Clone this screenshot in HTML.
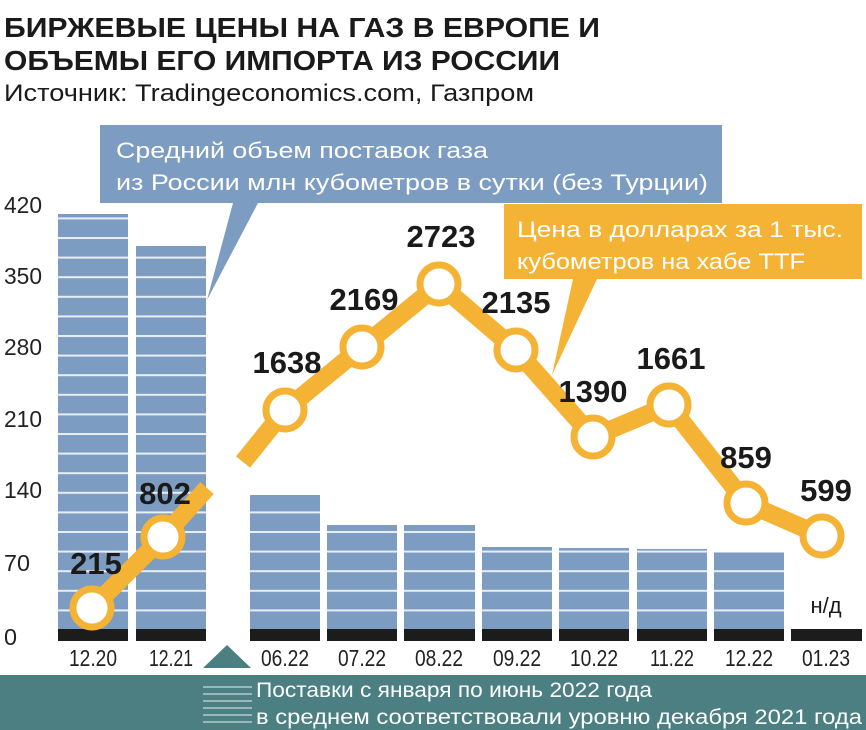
<!DOCTYPE html>
<html><head><meta charset="utf-8"><style>body{margin:0;background:#fff}svg{display:block}</style></head>
<body>
<svg width="866" height="730" xmlns="http://www.w3.org/2000/svg" font-family="Liberation Sans, DejaVu Sans, sans-serif">
<rect width="866" height="730" fill="#fff"/>
<text x="4" y="37" font-size="28" font-weight="bold" fill="#1a1a1a" textLength="596" lengthAdjust="spacingAndGlyphs">БИРЖЕВЫЕ ЦЕНЫ НА ГАЗ В ЕВРОПЕ И</text>
<text x="4" y="70" font-size="28" font-weight="bold" fill="#1a1a1a" textLength="556" lengthAdjust="spacingAndGlyphs">ОБЪЕМЫ ЕГО ИМПОРТА ИЗ РОССИИ</text>
<text x="4" y="101" font-size="24" fill="#1a1a1a" textLength="530" lengthAdjust="spacingAndGlyphs">Источник: Tradingeconomics.com, Газпром</text>
<defs>
<pattern id="st" width="10" height="19.6" patternUnits="userSpaceOnUse" y="629">
<rect width="10" height="19.6" fill="#7d9cc1"/><rect width="10" height="2" y="0" fill="#e8eef5"/>
</pattern>
</defs>
<g font-size="23" fill="#222" text-anchor="start">
<text x="4" y="213" textLength="38" lengthAdjust="spacingAndGlyphs">420</text>
<text x="4" y="284" textLength="38" lengthAdjust="spacingAndGlyphs">350</text>
<text x="4" y="355" textLength="38" lengthAdjust="spacingAndGlyphs">280</text>
<text x="4" y="427" textLength="38" lengthAdjust="spacingAndGlyphs">210</text>
<text x="4" y="498" textLength="38" lengthAdjust="spacingAndGlyphs">140</text>
<text x="4" y="571" textLength="26" lengthAdjust="spacingAndGlyphs">70</text>
<text x="4" y="645" textLength="13" lengthAdjust="spacingAndGlyphs">0</text>
</g>
<g fill="url(#st)">
<rect x="58" y="214" width="70" height="415"/>
<rect x="136" y="246" width="70" height="383"/>
<rect x="250" y="495" width="70" height="134"/>
<rect x="327" y="525" width="70" height="104"/>
<rect x="404" y="525" width="71" height="104"/>
<rect x="482" y="547" width="70" height="82"/>
<rect x="559" y="548" width="70" height="81"/>
<rect x="637" y="549" width="70" height="80"/>
<rect x="714" y="552" width="70" height="77"/>
</g>
<g fill="#1c1c1c">
<rect x="58" y="629" width="70" height="12"/><rect x="136" y="629" width="70" height="12"/>
<rect x="250" y="629" width="70" height="12"/><rect x="327" y="629" width="70" height="12"/>
<rect x="404" y="629" width="71" height="12"/><rect x="482" y="629" width="70" height="12"/>
<rect x="559" y="629" width="70" height="12"/><rect x="637" y="629" width="70" height="12"/>
<rect x="714" y="629" width="70" height="12"/><rect x="791" y="629" width="71" height="12"/>
</g>
<text x="826" y="613" font-size="22" fill="#1a1a1a" text-anchor="middle">н/д</text>
<g font-size="23" fill="#222" text-anchor="middle">
<text x="93" y="666" textLength="48" lengthAdjust="spacingAndGlyphs">12.20</text>
<text x="171" y="666" textLength="44" lengthAdjust="spacingAndGlyphs">12.21</text>
<text x="285" y="666" textLength="48" lengthAdjust="spacingAndGlyphs">06.22</text>
<text x="362" y="666" textLength="48" lengthAdjust="spacingAndGlyphs">07.22</text>
<text x="439" y="666" textLength="48" lengthAdjust="spacingAndGlyphs">08.22</text>
<text x="517" y="666" textLength="48" lengthAdjust="spacingAndGlyphs">09.22</text>
<text x="594" y="666" textLength="48" lengthAdjust="spacingAndGlyphs">10.22</text>
<text x="672" y="666" textLength="44" lengthAdjust="spacingAndGlyphs">11.22</text>
<text x="749" y="666" textLength="48" lengthAdjust="spacingAndGlyphs">12.22</text>
<text x="826" y="666" textLength="48" lengthAdjust="spacingAndGlyphs">01.23</text>
</g>
<polygon points="203,668 227,645 251,668" fill="#4b7f82"/>
<rect x="0" y="675" width="866" height="55" fill="#4b7f82"/>
<g stroke="#9ab8ba" stroke-width="2"><line x1="203" y1="687" x2="252" y2="687"/><line x1="203" y1="694" x2="252" y2="694"/><line x1="203" y1="701" x2="252" y2="701"/><line x1="203" y1="708" x2="252" y2="708"/><line x1="203" y1="715" x2="252" y2="715"/><line x1="203" y1="722" x2="252" y2="722"/></g>
<text x="256" y="697" font-size="21" fill="#fff" textLength="396" lengthAdjust="spacingAndGlyphs">Поставки с января по июнь 2022 года</text>
<text x="256" y="724" font-size="21" fill="#fff" textLength="606" lengthAdjust="spacingAndGlyphs">в среднем соответствовали уровню декабря 2021 года</text>
<polygon points="100,125 722,125 722,203 258,203 207,300 233,203 100,203" fill="#7d9cc1"/>
<text x="116" y="158" font-size="22" fill="#fff" textLength="372" lengthAdjust="spacingAndGlyphs">Средний объем поставок газа</text>
<text x="116" y="190" font-size="22" fill="#fff" textLength="592" lengthAdjust="spacingAndGlyphs">из России млн кубометров в сутки (без Турции)</text>
<polygon points="504,204 862,204 862,279 597,279 552,375 573,279 504,279" fill="#f5b335"/>
<text x="517" y="237" font-size="22" fill="#fff" textLength="326" lengthAdjust="spacingAndGlyphs">Цена в долларах за 1 тыс.</text>
<text x="517" y="269" font-size="22" fill="#fff" textLength="288" lengthAdjust="spacingAndGlyphs">кубометров на хабе TTF</text>
<g stroke="#f5b335" stroke-width="18" fill="none" stroke-linejoin="round">
<polyline points="92,608 163,537 207,488"/>
<polyline points="243,462 285,410 362,347 439,284 516,350 593,437 669,405 746,503 822,536"/>
</g>
<g fill="#fff" stroke="#f5b335" stroke-width="7">
<circle cx="92" cy="608" r="19"/><circle cx="163" cy="537" r="19"/><circle cx="285" cy="410" r="19"/>
<circle cx="362" cy="347" r="19"/><circle cx="439" cy="284" r="19"/><circle cx="516" cy="350" r="19"/>
<circle cx="593" cy="437" r="19"/><circle cx="669" cy="405" r="19"/><circle cx="746" cy="503" r="19"/>
<circle cx="822" cy="536" r="19"/>
</g>
<g font-size="31" font-weight="bold" fill="#1a1a1a" text-anchor="middle">
<text x="96" y="574">215</text><text x="165" y="504">802</text><text x="287" y="373">1638</text>
<text x="364" y="310">2169</text><text x="441" y="247">2723</text><text x="516" y="313">2135</text>
<text x="593" y="402">1390</text><text x="671" y="369">1661</text><text x="746" y="468">859</text>
<text x="826" y="501">599</text>
</g>
</svg>
</body></html>
